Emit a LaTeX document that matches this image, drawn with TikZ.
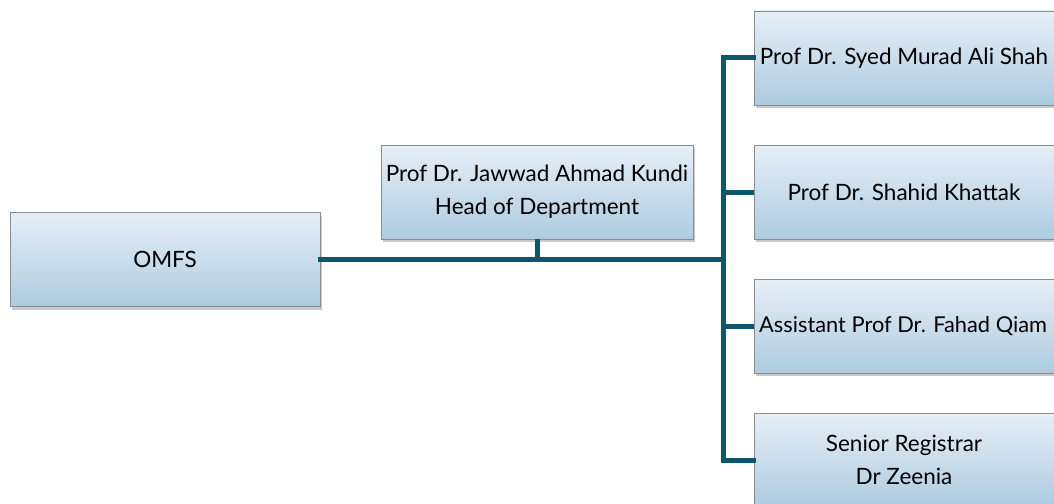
\documentclass[tikz,border=0pt]{standalone}
\usepackage{fontspec}
\setmainfont{Lato}
\usetikzlibrary{shadows}
\definecolor{linec}{HTML}{0F566C}
\definecolor{boxtop}{HTML}{E6EFF7}
\definecolor{boxbot}{HTML}{ADCBE0}
\definecolor{boxborder}{HTML}{8C8C8C}
\tikzset{
  orgfont/.style={font=\fontsize{22.5}{33}\selectfont},
  orgbox/.style={draw=boxborder, line width=0.9pt, top color=boxtop, bottom color=boxbot,
    minimum height=94pt, inner sep=0pt, align=center, orgfont,
    drop shadow={shadow xshift=2pt, shadow yshift=-3pt, opacity=0.35, fill=black!60}},
  conn/.style={draw=linec, line width=5pt, line cap=rect}
}
\begin{document}
\begin{tikzpicture}[x=1pt,y=-1pt]
\clip (0,0) rectangle (1054,503);
\fill[white] (0,0) rectangle (1054,503);
\node[orgbox, minimum width=310pt] (omfs) at (165,259.5) {OMFS};
\node[orgbox, minimum width=312pt] (head) at (537,192) {Prof Dr. Jawwad Ahmad Kundi\\Head of Department};
\node[orgbox, minimum width=300pt] (r1) at (904,58) {Prof Dr. Syed Murad Ali Shah};
\node[orgbox, minimum width=300pt] (r2) at (904,192) {Prof Dr. Shahid Khattak};
\node[orgbox, minimum width=300pt] (r3) at (904,326) {};
\node[anchor=west, inner sep=0pt, font=\fontsize{21.8}{33}\selectfont] (r3t) at (759,326) {Assistant Prof Dr. Fahad Qiam};
\node[orgbox, minimum width=300pt] (r4) at (904,460) {Senior Registrar\\Dr Zeenia};
\coordinate (bus) at (723,259.5);
\coordinate (top) at (723,58);
\coordinate (bot) at (723,460);
\draw[conn] (omfs.east) -- (bus);
\draw[conn, line cap=butt] (head.south) -- (head.south |- bus);
\draw[conn, line join=miter] (r1.west) -- (top) -- (bot) -- (r4.west);
\draw[conn, line cap=butt] (723,192) -- (r2.west);
\draw[conn, line cap=butt] (723,326) -- (r3.west);
\end{tikzpicture}
\end{document}
